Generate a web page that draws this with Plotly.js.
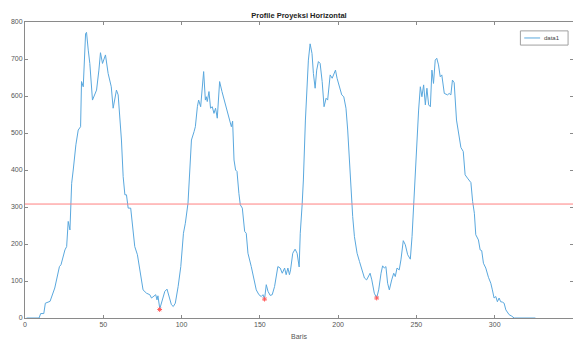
<!DOCTYPE html>
<html>
<head>
<meta charset="utf-8">
<script src="https://cdn.plot.ly/plotly-3.0.1.min.js"></script>
<style>html,body{margin:0;padding:0;background:#fff;}#chart{width:573px;height:340px;}</style>
</head>
<body>
<div id="chart"></div>
<script>
// Row index (Baris) and horizontal projection value
const baris = [1,9,10,12,13,16,19,20,22,23,25.5,26.6,27.6,28.7,29.8,30.8,32.5,34,35.5,36.1,37.2,38.7,39.3,40.4,41.4,43.1,44.6,45.7,47.2,48.2,49.5,50.2,51.4,53.1,54.6,55.1,56.3,57.1,58.4,59.5,60.6,61.6,62.7,63.8,64.8,65.9,67.5,68.4,70.1,71.8,73.3,75.4,77.6,79.7,80.8,82.3,83.5,84.3,84.9,86.1,87.6,89.3,90.7,92,93.5,94.7,96,97.8,99.5,101.2,102.4,104.1,105.2,106.3,108,108.8,110.1,110.9,112.2,113.3,114.1,115.2,115.8,116.4,117.5,118.5,119.6,120.7,121.7,122.8,124.3,125.8,127.5,129.2,130.7,131.8,132.6,133.5,134.5,135.4,136.6,137.5,138.8,140.3,141.3,142.4,144.5,146,147.7,149.4,150.9,152,153,154.1,155.2,156.6,157.9,159.4,161.5,163,164.3,165.8,166.8,167.9,168.9,169.6,171,172.5,173.8,175.1,175.8,177,177.8,179.1,180,181,182.1,183.3,184.2,185.3,186.3,187.4,188.5,189.8,191,192.3,193.3,194.9,196.2,197.2,198.3,199.3,200.5,201.5,202.3,203.6,205,206.1,207.2,208.2,209.3,210.4,212.1,213.6,215.1,216.8,218.2,220.4,221.5,223.1,224.6,225.9,227.4,228.4,229.5,230.5,231.6,232.7,234.2,235.5,236.5,237.6,239,240.1,241.6,242.9,244.4,246.1,247.2,248.2,249.3,250.3,251.4,252.5,253.5,254.6,255.7,256.7,257.8,258.9,259.9,260.9,262,263,264.1,265.2,266.2,267.8,269.9,270.9,272,273,274.1,275.6,276.9,278.4,279.9,281.1,282.6,284.8,285.9,287,287.9,289.6,290.7,291.7,292.8,294.3,296,297.5,298.5,299.6,300.7,301.7,302.8,303.8,304.9,306,307.1,309.2,310.9,312.4,326];
const proyeksi = [0,0,12,12,40,45,81,103,139,144,184,193,261,238,364,400,468,508,517,639,625,769,772,724,688,589,603,616,670,717,688,697,711,661,634,625,567,589,616,603,544,481,382,333,333,297,297,256,193,171,130,76,67,63,54,58,63,49,60,25,49,72,78,58,36,31,40,85,139,229,256,310,400,481,504,517,571,589,571,616,666,589,598,585,612,567,571,553,567,540,639,612,585,562,540,517,532,427,400,396,337,306,297,234,229,175,139,112,76,63,58,63,51,90,72,61,63,85,139,135,121,135,117,135,117,130,175,186,175,138,229,306,373,535,625,697,741,715,661,621,670,693,688,639,571,594,589,657,648,661,670,648,630,621,603,598,567,508,418,337,274,220,175,153,130,108,103,121,103,67,54,76,121,141,135,139,94,76,103,121,112,135,130,157,209,198,171,159,220,301,391,490,562,625,598,630,576,621,576,571,670,634,697,702,684,652,657,607,603,607,603,643,636,535,499,461,450,387,378,366,315,283,225,211,184,182,148,135,110,94,76,54,58,44,54,44,43,40,22,9,5,0,0];
// Local minima (valleys) marked in red
const minX = [86, 153, 224.6];
const minY = [23, 51, 54];
// Threshold line
const threshold = 308;
const seriesName = 'data1';
const xTicks = [0,50,100,150,200,250,300,350];
const yTicks = [0,100,200,300,400,500,600,700,800];

const lineColor = '#5aa8de';
const fontFam = 'Liberation Sans, Arial, sans-serif';

const traces = [
  {x: baris, y: proyeksi, type: 'scatter', mode: 'lines', name: seriesName,
   line: {color: lineColor, width: 1}},
  {x: minX, y: minY, type: 'scatter', mode: 'markers', showlegend: false,
   marker: {symbol: 'asterisk-open', size: 4, color: '#ff5c5c', line: {color: '#ff5c5c', width: 1}}}
];

const axisCommon = {
  showgrid: false, zeroline: false, showline: true, mirror: 'ticks',
  linecolor: '#8a8a8a', linewidth: 1, ticks: 'inside', ticklen: 3, tickcolor: '#8a8a8a',
  tickfont: {family: fontFam, size: 7, color: '#555'}
};

// Compact MATLAB-style legend box (paper coordinates)
const lgX0 = 0.904, lgX1 = 0.991, lgY0 = 0.922, lgY1 = 0.970;
const lgMidY = (lgY0 + lgY1) / 2;

const layout = {
  width: 573, height: 340,
  margin: {l: 25, r: 0, t: 22, b: 22},
  paper_bgcolor: '#fff', plot_bgcolor: '#fff',
  showlegend: false,
  title: {text: '<b>Profile Proyeksi Horizontal</b>', font: {family: fontFam, size: 7.5, color: '#222'},
          x: 0.5, xref: 'paper', xanchor: 'center', y: 1, yref: 'paper', yanchor: 'bottom', pad: {b: 4}},
  xaxis: Object.assign({}, axisCommon, {range: [0, 350], tickvals: xTicks, ticktext: xTicks.map(String),
          title: {text: 'Baris', font: {family: fontFam, size: 7, color: '#555'}, standoff: 8}}),
  yaxis: Object.assign({}, axisCommon, {range: [0, 800], tickvals: yTicks, ticktext: yTicks.map(String)}),
  shapes: [
    {type: 'line', xref: 'paper', x0: 0, x1: 1, yref: 'y', y0: threshold, y1: threshold,
     line: {color: '#ff8080', width: 1}},
    {type: 'rect', xref: 'paper', yref: 'paper', x0: lgX0, x1: lgX1, y0: lgY0, y1: lgY1,
     line: {color: '#a0a0a0', width: 1}, fillcolor: '#fff'},
    {type: 'line', xref: 'paper', yref: 'paper', x0: lgX0 + 0.007, x1: lgX0 + 0.036, y0: lgMidY, y1: lgMidY,
     line: {color: lineColor, width: 1}}
  ],
  annotations: [
    {xref: 'paper', yref: 'paper', x: lgX0 + 0.040, y: lgMidY, xanchor: 'left', yanchor: 'middle',
     text: seriesName, showarrow: false, font: {family: fontFam, size: 6, color: '#444'}}
  ]
};

Plotly.newPlot('chart', traces, layout, {displayModeBar: false, staticPlot: true});
</script>
</body>
</html>
